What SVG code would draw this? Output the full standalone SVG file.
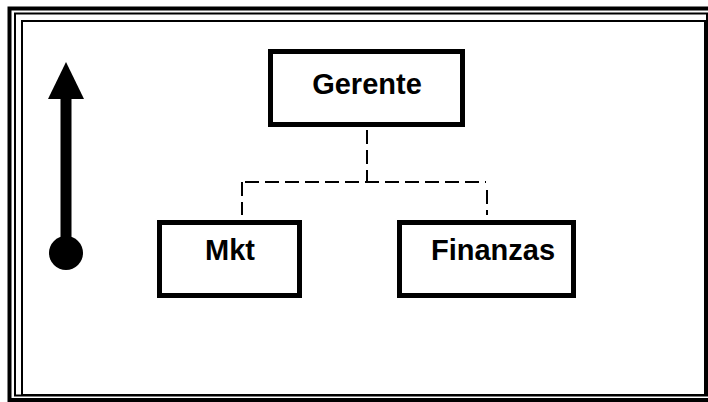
<svg xmlns="http://www.w3.org/2000/svg" width="708" height="402" viewBox="0 0 708 402">
  <style>
    .box { fill: #ffffff; stroke: #000000; stroke-width: 5; }
    .label { font-family: "Liberation Sans", Arial, sans-serif; font-weight: bold; font-size: 29px; fill: #000000; text-anchor: middle; }
    .dash { fill: none; stroke: #000000; stroke-width: 2; stroke-dasharray: 14 6; }
    .frame { fill: none; stroke: #000000; }
  </style>
  <rect x="0" y="0" width="708" height="402" fill="#ffffff"/>

  <!-- page border: thick outer line, two thin inner lines -->
  <g id="border">
    <rect class="frame" x="9.5" y="8.5" width="701" height="391.5" stroke-width="4"/>
    <rect class="frame" x="15" y="13.5" width="692" height="382" stroke-width="2"/>
    <rect class="frame" x="22" y="21" width="683" height="374" stroke-width="2"/>
  </g>

  <!-- upward arrow with round tail -->
  <g id="arrow">
    <rect x="60.5" y="95" width="11" height="160" fill="#000000"/>
    <polygon points="66,62 48,99 84,99" fill="#000000"/>
    <circle cx="66" cy="253" r="17" fill="#000000"/>
  </g>

  <g id="connectors">
    <path class="dash" d="M367,130 V182"/>
    <path class="dash" d="M245,182 H486"/>
    <path class="dash" d="M242,182 V215"/>
    <path class="dash" d="M487,190 V215"/>
  </g>

  <g id="gerente">
    <rect class="box" x="270.5" y="51.5" width="192" height="73"/>
    <text class="label" x="367" y="94">Gerente</text>
  </g>

  <g id="mkt">
    <rect class="box" x="159.5" y="222.5" width="140" height="73"/>
    <text class="label" x="230" y="260">Mkt</text>
  </g>

  <g id="finanzas">
    <rect class="box" x="399.5" y="222.5" width="174" height="73"/>
    <text class="label" x="493" y="260">Finanzas</text>
  </g>
</svg>
